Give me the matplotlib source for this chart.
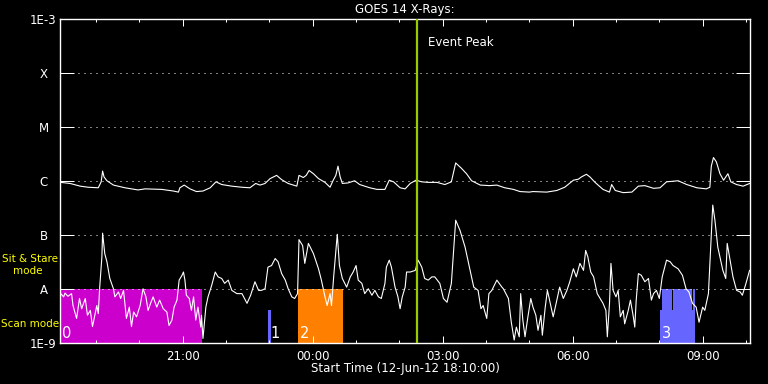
import matplotlib
matplotlib.use("Agg")
import matplotlib.pyplot as plt
from matplotlib.ticker import NullLocator
import numpy as np

# time axis: minutes after the start time (12-Jun-12 18:10:00)
t_end = 956

# GOES long channel (1-8 A), log10 of flux in W/m^2
long_t = [1, 14, 28, 39, 53, 57, 59, 61, 65, 74, 90, 108, 118, 141, 157, 164, 166, 172, 180, 189,
          198, 208, 216, 224, 238, 252, 263, 271, 277, 284, 291, 300, 307, 316, 328, 331, 337, 341, 345, 351,
          358, 367, 374, 378, 382, 385, 388, 391, 399, 408, 415, 429, 439, 450, 456, 462, 471, 478, 485, 493,
          501, 510, 522, 533, 542, 548, 556, 563, 570, 582, 595, 605, 616, 628, 637, 650, 655, 674, 688, 699,
          711, 718, 722, 729, 734, 741, 752, 761, 764, 769, 780, 792, 801, 810, 822, 831, 840, 856, 868, 882,
          895, 900, 902, 905, 909, 914, 919, 925, 929, 937, 946, 955]
long_log = [-6.02, -6.04, -6.09, -6.11, -6.12, -6.01, -5.81, -5.92, -5.99, -6.07, -6.12, -6.16, -6.14, -6.15, -6.18, -6.20, -6.12, -6.07, -6.14, -6.19,
            -6.18, -6.12, -6.01, -6.06, -6.09, -6.11, -6.12, -6.04, -6.07, -6.04, -5.95, -5.89, -5.97, -6.04, -6.09, -5.89, -5.93, -5.89, -5.80, -5.86,
            -5.95, -6.02, -6.11, -5.99, -5.89, -5.72, -5.92, -6.04, -6.03, -5.99, -6.06, -6.12, -6.15, -6.15, -5.98, -6.01, -6.12, -6.14, -6.04, -5.98,
            -6.01, -6.02, -6.02, -6.06, -6.01, -5.66, -5.76, -5.86, -5.99, -6.07, -6.08, -6.07, -6.12, -6.15, -6.19, -6.20, -6.19, -6.20, -6.17, -6.11,
            -5.98, -5.96, -5.92, -5.87, -5.92, -6.02, -6.15, -6.20, -6.06, -6.17, -6.21, -6.20, -6.09, -6.08, -6.13, -6.12, -6.01, -5.99, -6.06, -6.12,
            -6.14, -6.11, -5.72, -5.56, -5.64, -5.86, -5.98, -5.86, -6.01, -6.06, -6.09, -6.04]

# GOES short channel (0.5-4 A)
short_t = [1, 5, 7, 11, 16, 18, 23, 27, 30, 35, 38, 42, 45, 51, 53, 55, 58, 59, 62, 65,
           69, 74, 76, 81, 84, 88, 92, 96, 99, 102, 106, 111, 115, 119, 122, 126, 129, 134, 138, 143,
           148, 151, 155, 158, 162, 165, 169, 171, 173, 175, 179, 182, 185, 188, 191, 195, 196, 198, 202, 205,
           210, 215, 219, 224, 228, 233, 238, 245, 252, 259, 264, 270, 275, 279, 284, 288, 293, 298, 302, 307,
           312, 316, 321, 325, 329, 331, 336, 339, 344, 351, 358, 362, 367, 370, 374, 376, 379, 384, 387, 391,
           397, 402, 406, 410, 413, 418, 422, 427, 432, 436, 441, 445, 450, 452, 456, 459, 464, 468, 471, 474,
           478, 480, 485, 492, 496, 501, 505, 510, 515, 519, 526, 531, 536, 542, 546, 548, 554, 561, 568, 573,
           579, 583, 586, 591, 594, 598, 605, 612, 614, 621, 625, 629, 632, 636, 638, 641, 644, 648, 652, 655,
           659, 662, 666, 668, 672, 675, 678, 683, 688, 692, 697, 702, 706, 711, 715, 720, 725, 728, 731, 735,
           739, 744, 748, 752, 756, 758, 761, 763, 766, 770, 773, 776, 780, 782, 787, 790, 794, 796, 798, 801,
           805, 810, 815, 819, 822, 826, 830, 834, 840, 845, 849, 856, 862, 867, 871, 876, 881, 885, 890, 893,
           898, 901, 904, 907, 911, 918, 922, 924, 928, 932, 937, 942, 945, 950, 955]
short_log = [-8.08, -8.14, -8.07, -8.13, -8.08, -8.30, -8.54, -8.17, -8.36, -8.17, -8.48, -8.39, -8.69, -8.30, -8.45, -7.96, -7.40, -6.96, -7.34, -7.49,
             -7.80, -7.99, -8.14, -8.05, -8.17, -8.02, -8.54, -8.33, -8.69, -8.42, -8.51, -8.30, -7.99, -8.14, -8.39, -8.24, -8.14, -8.33, -8.20, -8.36,
             -8.42, -8.67, -8.57, -8.33, -8.20, -7.83, -7.74, -7.68, -7.83, -8.11, -8.17, -8.39, -8.14, -8.57, -8.33, -8.70, -8.48, -8.91, -8.33, -8.14,
             -7.93, -7.68, -7.77, -7.80, -7.89, -7.83, -8.02, -8.08, -8.08, -8.26, -8.11, -7.86, -8.02, -8.02, -7.99, -7.59, -7.56, -7.43, -7.49, -7.71,
             -7.83, -7.99, -8.14, -8.17, -8.08, -7.08, -7.19, -7.52, -7.15, -7.34, -7.62, -7.83, -8.14, -8.30, -8.08, -8.30, -7.77, -6.98, -7.56, -7.80,
             -7.96, -7.77, -7.68, -7.56, -7.83, -7.89, -8.08, -7.99, -8.11, -8.02, -8.14, -8.17, -7.89, -7.59, -7.46, -7.59, -7.96, -8.14, -8.36, -8.14,
             -7.96, -7.68, -7.68, -7.65, -7.46, -7.59, -7.80, -7.83, -7.77, -7.77, -7.89, -8.17, -8.24, -7.89, -7.09, -6.72, -6.91, -7.22, -7.65, -7.96,
             -8.02, -8.36, -8.30, -8.54, -8.08, -8.02, -7.83, -7.96, -7.99, -8.17, -8.61, -8.94, -8.70, -8.88, -8.08, -8.57, -8.88, -8.51, -8.17, -8.33,
             -8.48, -8.76, -8.48, -8.85, -8.33, -8.02, -8.20, -8.51, -8.20, -7.96, -8.17, -8.02, -7.86, -7.62, -7.77, -7.52, -7.65, -7.28, -7.40, -7.68,
             -7.77, -8.08, -8.17, -8.26, -8.39, -8.88, -8.26, -7.52, -8.02, -8.14, -8.02, -8.51, -8.39, -8.64, -8.39, -8.20, -8.51, -8.70, -8.20, -7.71,
             -7.74, -7.86, -7.80, -8.20, -8.08, -8.02, -8.17, -7.77, -7.46, -7.49, -7.56, -7.62, -7.74, -7.99, -8.05, -8.26, -8.33, -8.61, -8.33, -8.39,
             -8.08, -7.28, -6.44, -6.72, -7.22, -7.65, -7.80, -7.15, -7.46, -7.77, -8.02, -8.05, -8.11, -7.89, -7.65]

# observing-mode blocks (start, end in minutes, top level in W/m^2)
mode_start = [0, 288.4, 330, 830.8, 833.5, 848.9, 876.6]
mode_end = [197, 292.2, 391.5, 879.2, 847.8, 875.5, 879.2]
mode_top = [1e-8, 4.1e-9, 1e-8, 4.1e-9, 1e-8, 1e-8, 1e-8]
mode_color = ['#cc00cc', '#6666ff', '#ff8000', '#6666ff', '#6666ff', '#6666ff', '#6666ff']
block_label = ['0', '1', '2', '3']
block_label_t = [0, 288.4, 330, 830.8]

peak_t = 494

xmajor = [170, 350, 530, 710, 890]
xmajor_labels = ['21:00', '00:00', '03:00', '06:00', '09:00']
xminor = [50, 110, 230, 290, 410, 470, 590, 650, 770, 830, 950]

levels = [1e-9, 1e-8, 1e-7, 1e-6, 1e-5, 1e-4, 1e-3]
level_labels = ['1E-9', 'A', 'B', 'C', 'M', 'X', '1E-3']

W, H = 768, 384
fig = plt.figure(figsize=(W / 100, H / 100), dpi=100, facecolor='black')
ax = fig.add_axes([60 / W, 1 - 343.3 / H, 690.3 / W, 324 / H])
ax.set_facecolor('black')

for s, e, top, c in zip(mode_start, mode_end, mode_top, mode_color):
    ax.bar(s, top - 1e-9, bottom=1e-9, width=e - s, align='edge', color=c, linewidth=0, zorder=1)

for lv in levels[1:-1]:
    ax.axhline(lv, color='white', lw=0.72, linestyle=(0, (1, 5)), zorder=1.5)

ax.plot(long_t, 10 ** np.array(long_log), color='white', lw=0.8, zorder=2)
ax.plot(short_t, 10 ** np.array(short_log), color='white', lw=0.8, zorder=2)

ax.axvline(peak_t, color='#99cc00', lw=1.6, zorder=3)
ax.annotate('Event Peak', xy=(peak_t, 1e-3), xytext=(8, -17), textcoords='offset points',
            color='white', fontsize=8.5, ha='left', va='center')

for lab, t in zip(block_label, block_label_t):
    ax.annotate(lab, xy=(t, 1e-9), xytext=(1.5, 3.6), textcoords='offset points',
                color='white', fontsize=10.5, ha='left', va='baseline', zorder=4)

ax.set_yscale('log')
ax.set_xlim(0, t_end)
ax.set_ylim(1e-9, 1e-3)
ax.yaxis.set_minor_locator(NullLocator())
ax.set_yticks(levels, level_labels)
for lbl in ax.get_yticklabels():
    lbl.set_horizontalalignment('center')
ax.tick_params(axis='y', which='major', direction='in', length=10, width=0.72,
               left=True, right=True, colors='white', labelsize=8.5, pad=11.9)

ax.set_xticks(xmajor, xmajor_labels)
ax.set_xticks(xminor, minor=True)
ax.tick_params(axis='x', which='major', direction='in', length=4.7, width=0.72,
               top=True, bottom=True, colors='white', labelsize=8.5, pad=5)
ax.tick_params(axis='x', which='minor', direction='in', length=2.2, width=0.72,
               top=True, bottom=True, colors='white')

for sp in ax.spines.values():
    sp.set_color('white')
    sp.set_linewidth(1)

ax.set_title('GOES 14 X-Rays:', color='white', fontsize=8.5, pad=4.3)
ax.set_xlabel('Start Time (12-Jun-12 18:10:00)', color='white', fontsize=8.5, labelpad=-1)

fig.text(1.7 / W, 1 - 259 / H, 'Sit & Stare', color='#ffff00', fontsize=7.5, ha='left', va='center')
fig.text(12.7 / W, 1 - 271 / H, 'mode', color='#ffff00', fontsize=7.5, ha='left', va='center')
fig.text(1.2 / W, 1 - 324 / H, 'Scan mode', color='#ffff00', fontsize=7.5, ha='left', va='center')

fig.savefig('out.png', dpi=100, facecolor='black')
